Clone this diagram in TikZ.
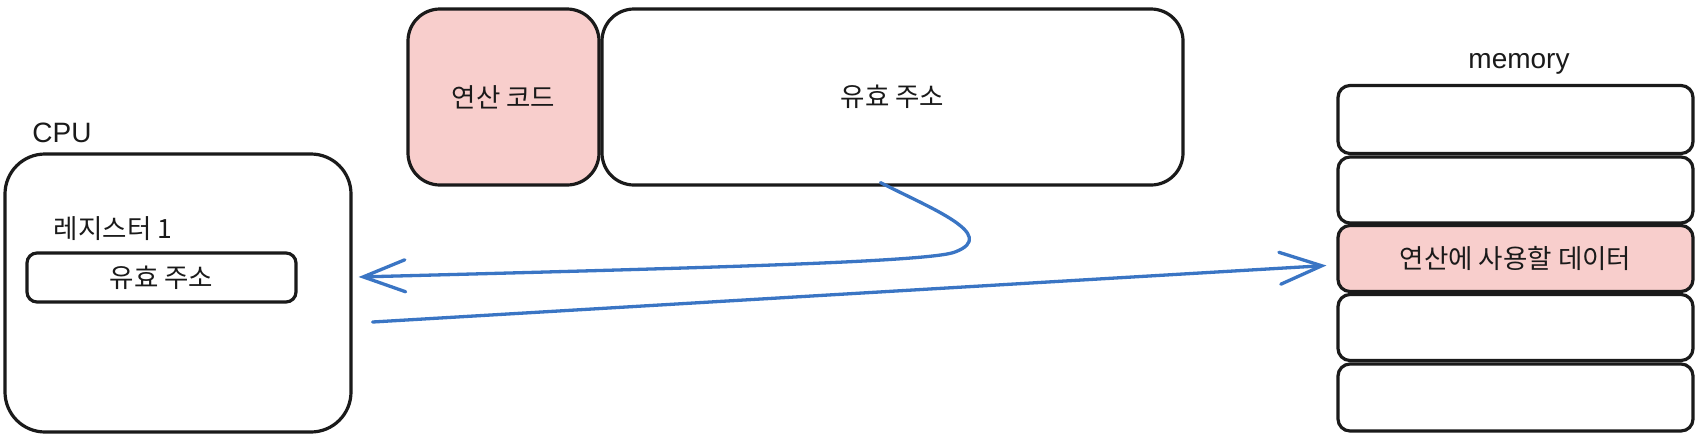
\documentclass[tikz,border=0pt]{standalone}
\usepackage{fontspec}
\setmainfont{Liberation Sans}
\newfontfamily\kr{Noto Sans CJK KR}
\usetikzlibrary{arrows.meta,calc}
\definecolor{stroke}{RGB}{26,26,26}
\definecolor{pinkfill}{RGB}{248,206,204}
\definecolor{arrblue}{RGB}{58,117,196}
\tikzset{
  box/.style={draw=stroke, line width=3.2pt, inner sep=0pt, fill=white},
  krtext/.style={font=\kr\fontsize{26.5}{30}\selectfont, text=stroke},
  lattext/.style={font=\fontsize{28}{32}\selectfont, text=stroke},
  conn/.style={draw=arrblue, line width=3.3pt, line cap=round,
    -{Straight Barb[length=42pt,width=32pt,line cap=round]}}
}
\begin{document}
\begin{tikzpicture}[x=1pt,y=-1pt]
\useasboundingbox[fill=white] (0,0) rectangle (1702,440);

% CPU
\node[box, rounded corners=40pt, minimum width=346pt, minimum height=278pt] (cpu) at (178,293) {};
\node[lattext, anchor=base] (cpulabel) at (62,142) {CPU};
\node[krtext, anchor=base] (reglabel) at (113,238) {레지스터 1};
\node[box, rounded corners=10pt, minimum width=269pt, minimum height=49pt, krtext] (reg) at (161.5,277.5) {유효 주소};

% Instruction
\node[box, fill=pinkfill, rounded corners=32pt, minimum width=191pt, minimum height=176pt, krtext] (op) at (503.5,97) {연산 코드};
\node[box, rounded corners=32pt, minimum width=581pt, minimum height=176pt, krtext] (addr) at (892.5,97) {유효 주소};

% Memory
\node[lattext, anchor=base] (memlabel) at (1519,68) {memory};
\node[box, rounded corners=12pt, minimum width=355pt, minimum height=68pt] (m1) at (1515.5,119.5) {};
\node[box, rounded corners=12pt, minimum width=355pt, minimum height=66pt] (m2) at (1515.5,190) {};
\node[box, fill=pinkfill, rounded corners=12pt, minimum width=355pt, minimum height=66pt, krtext] (m3) at (1515.5,258.5) {연산에 사용할 데이터};
\node[box, rounded corners=12pt, minimum width=355pt, minimum height=66pt] (m4) at (1515.5,327.5) {};
\node[box, rounded corners=12pt, minimum width=355pt, minimum height=67pt] (m5) at (1515.5,397.5) {};

% Connectors
\coordinate (a1start) at ($(addr.south)+(-12,-4)$);
\coordinate (a1end) at ($(cpu.east)+(6,-16)$);
\draw[conn] (a1start) .. controls (930,208) and (1000,235) .. (955,252)
  .. controls (930,262) and (700,268) .. (a1end);

\coordinate (a2start) at ($(cpu.east)+(20,29)$);
\coordinate (a2end) at ($(m3.west)+(-10,7)$);
\draw[conn] (a2start) -- (a2end);
\end{tikzpicture}
\end{document}
